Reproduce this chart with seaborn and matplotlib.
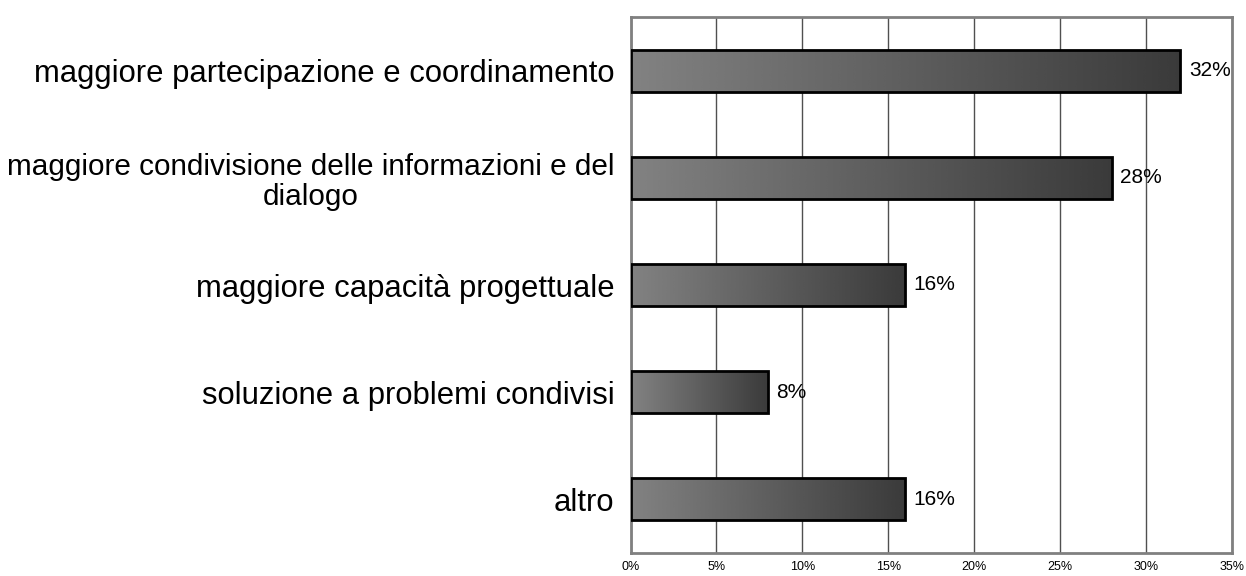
import matplotlib
matplotlib.use('Agg')
import matplotlib.pyplot as plt
import numpy as np
import pandas as pd
import seaborn as sns

categories = ['maggiore partecipazione e coordinamento',
              'maggiore condivisione delle informazioni e del\ndialogo',
              'maggiore capacità progettuale',
              'soluzione a problemi condivisi',
              'altro']
values = [32, 28, 16, 8, 16]
ticks = [0, 5, 10, 15, 20, 25, 30, 35]

df = pd.DataFrame({'cat': categories, 'val': values})

sns.set_style('white')
plt.rcParams['font.family'] = ['Liberation Sans', 'DejaVu Sans']
plt.rcParams['text.color'] = 'black'
plt.rcParams['xtick.color'] = 'black'
plt.rcParams['ytick.color'] = 'black'

fig = plt.figure(figsize=(12.46, 5.76), dpi=100)
ax = fig.add_axes([630.5 / 1246, 1 - 553 / 576, 601.5 / 1246, 536 / 576])

sns.barplot(data=df, x='val', y='cat', ax=ax, width=0.39, color='#606060',
            edgecolor='black', linewidth=2, orient='h', zorder=3)

# gradient fill, light on the left, dark on the right
grad = np.linspace(0.51, 0.23, 256).reshape(1, -1)
for p in ax.patches:
    x0, y0 = p.get_x(), p.get_y()
    w, h = p.get_width(), p.get_height()
    im = ax.imshow(grad, cmap='gray', vmin=0, vmax=1, aspect='auto',
                   extent=[x0, x0 + w, y0 + h, y0], zorder=3.5, interpolation='bicubic')
    im.set_clip_path(p)
    p.set_facecolor('none')
    p.set_zorder(4)

for i, v in enumerate(values):
    ax.annotate(f'{v}%', (v, i), xytext=(6, 0), textcoords='offset points',
                va='center', ha='left', fontsize=15, zorder=5)

ax.set_xlim(0, 35)
ax.set_ylim(4.5, -0.5)
ax.set_xticks(ticks)
ax.set_xticklabels([f'{t}%' for t in ticks], fontsize=9)
ax.tick_params(axis='x', direction='out', length=2.5, width=1.5, color='#808080', pad=3)
ax.tick_params(axis='y', length=0, pad=11.5, labelsize=22.3)
for lbl in ax.get_yticklabels():
    lbl.set_multialignment('center')
    lbl.set_linespacing(1.12)
    if '\n' in lbl.get_text():
        lbl.set_fontsize(21.4)
ax.set_xlabel('')
ax.set_ylabel('')
ax.grid(axis='x', color='#505050', linewidth=1, zorder=0)
ax.set_axisbelow(True)
for s in ax.spines.values():
    s.set_color('#808080')
    s.set_linewidth(2)
    s.set_visible(True)

fig.savefig('out.png', dpi=100)
